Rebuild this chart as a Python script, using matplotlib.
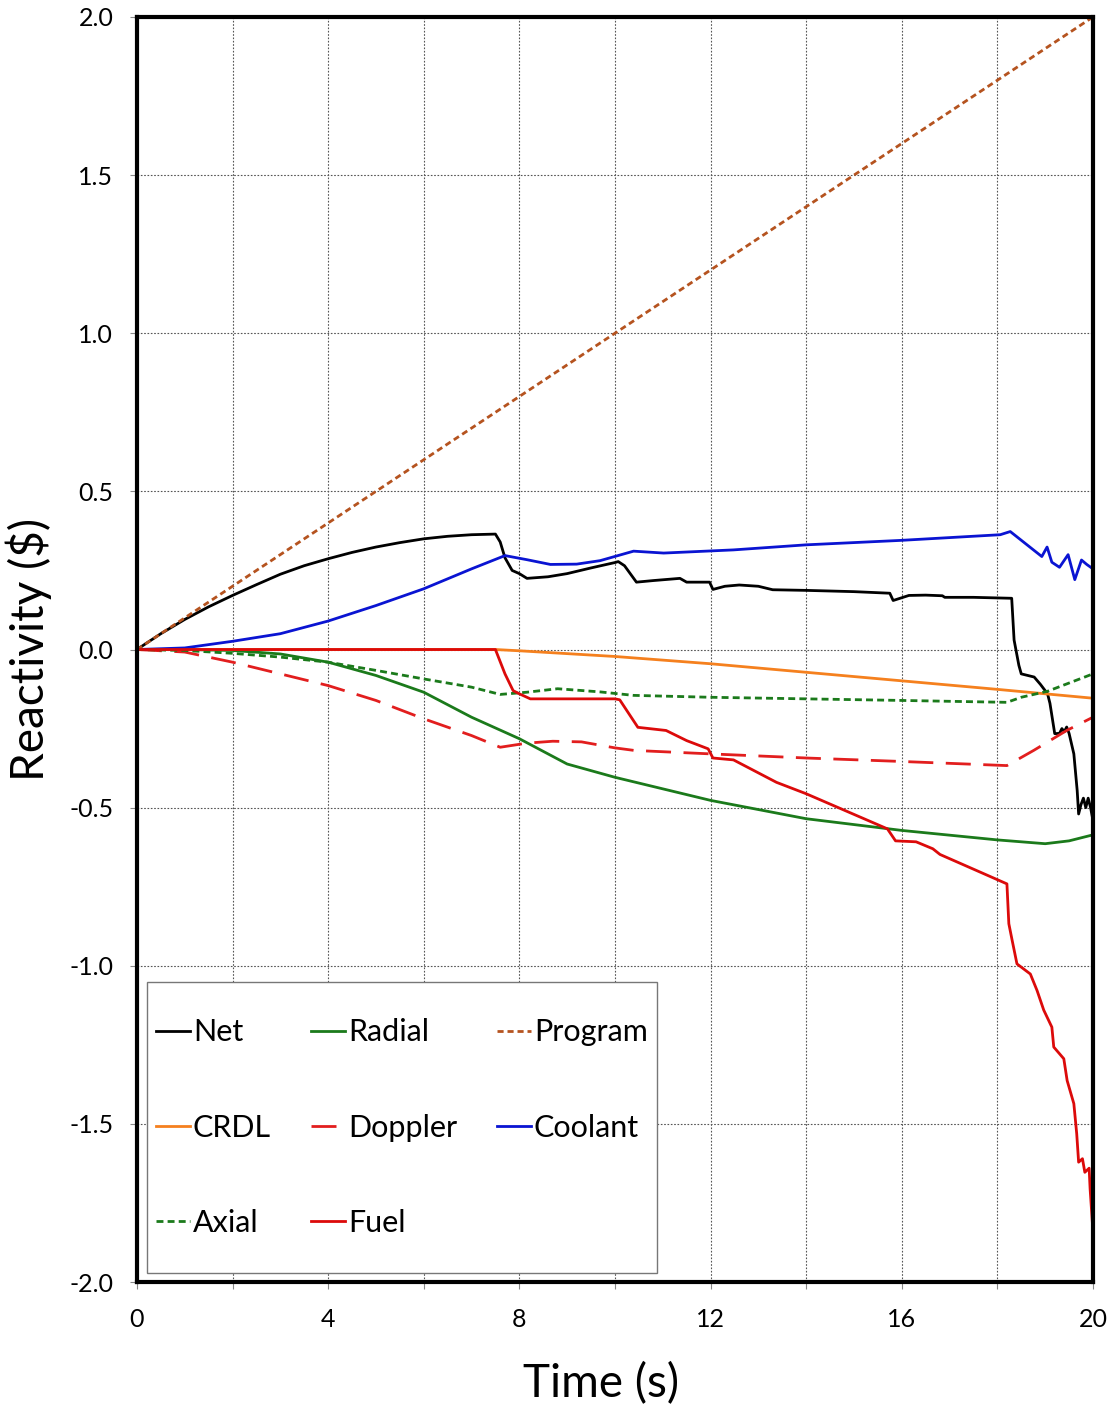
import matplotlib
matplotlib.use("Agg")
import matplotlib.pyplot as plt
import numpy as np
from matplotlib.patches import Rectangle
from matplotlib.ticker import MultipleLocator, FormatStrFormatter

plt.rcParams['font.family'] = ['Lato', 'DejaVu Sans']
plt.rcParams['axes.unicode_minus'] = False

# values
net_t = [0, 0.5, 1, 1.5, 2, 2.5, 3, 3.5, 4, 4.5, 5, 5.5, 6, 6.5, 7, 7.5, 7.6, 7.7, 7.85, 8.0, 8.16,
         8.6, 9.0, 9.5, 10.0, 10.07, 10.2, 10.45, 10.8, 11.36, 11.5, 11.98, 12.05, 12.3, 12.6, 13.0,
         13.3, 14.0, 15.0, 15.75, 15.82, 16.15, 16.5, 16.85, 16.9, 17.5, 18.3, 18.35, 18.45, 18.5,
         18.77, 18.9, 19.05, 19.1, 19.2, 19.3, 19.35, 19.4, 19.45, 19.5, 19.6, 19.67, 19.7, 19.75,
         19.8, 19.85, 19.9, 19.95, 20.0]
net_v = [0, 0.05, 0.095, 0.135, 0.171, 0.205, 0.238, 0.265, 0.287, 0.307, 0.324, 0.338, 0.35, 0.358,
         0.363, 0.365, 0.34, 0.29, 0.25, 0.24, 0.225, 0.23, 0.24, 0.258, 0.275, 0.278, 0.265, 0.213,
         0.218, 0.225, 0.213, 0.213, 0.19, 0.2, 0.204, 0.2, 0.189, 0.187, 0.183, 0.178, 0.155, 0.171,
         0.172, 0.17, 0.165, 0.165, 0.162, 0.03, -0.05, -0.077, -0.087, -0.11, -0.14, -0.17, -0.266,
         -0.265, -0.25, -0.26, -0.245, -0.265, -0.33, -0.446, -0.52, -0.49, -0.47, -0.5, -0.47, -0.5,
         -0.54]

radial_t = [0, 1, 2, 3, 4, 5, 6, 7, 8, 9, 10, 12, 14, 16, 18, 19, 19.5, 20]
radial_v = [0, 0, -0.003, -0.014, -0.04, -0.082, -0.135, -0.214, -0.282, -0.362, -0.404, -0.477,
            -0.535, -0.572, -0.602, -0.614, -0.605, -0.586]

program_t = [0, 20]
program_v = [0, 2.0]

crdl_t = [0, 7.5, 8, 10, 12, 14, 16, 18, 20]
crdl_v = [0, 0, -0.004, -0.022, -0.045, -0.072, -0.099, -0.126, -0.154]

doppler_t = [0, 1, 2, 3, 4, 5, 6, 7, 7.6, 8.16, 8.7, 9.3, 10.0, 10.4, 12, 14, 16, 18.2, 18.76,
             19.45, 20]
doppler_v = [0, -0.008, -0.04, -0.077, -0.114, -0.161, -0.219, -0.272, -0.309, -0.296, -0.29,
             -0.292, -0.311, -0.319, -0.33, -0.343, -0.354, -0.367, -0.319, -0.256, -0.214]

coolant_t = [0, 1, 2, 3, 4, 5, 6, 7, 7.7, 8.16, 8.65, 9.2, 9.69, 10.39, 11.02, 12.48, 14.0, 15.97,
             18.06, 18.27, 18.93, 19.04, 19.14, 19.3, 19.48, 19.62, 19.76, 19.87, 20.0]
coolant_v = [0, 0.005, 0.026, 0.05, 0.09, 0.139, 0.192, 0.255, 0.297, 0.284, 0.269, 0.27, 0.281,
             0.311, 0.305, 0.315, 0.331, 0.345, 0.363, 0.373, 0.294, 0.324, 0.276, 0.26, 0.30,
             0.221, 0.283, 0.269, 0.255]

axial_t = [0, 1, 2, 3, 4, 5, 6, 7, 7.6, 8.16, 8.8, 9.69, 10.39, 12, 14, 16, 18.2, 18.5, 19.05, 20]
axial_v = [0, -0.003, -0.012, -0.024, -0.04, -0.066, -0.093, -0.119, -0.142, -0.135, -0.124,
           -0.134, -0.145, -0.151, -0.156, -0.161, -0.167, -0.151, -0.132, -0.077]

fuel_t = [0, 7.5, 7.7, 7.87, 8.0, 8.23, 10.0, 10.1, 10.48, 11.07, 11.5, 11.95, 12.05, 12.48, 13.38,
          14.0, 15.7, 15.87, 16.3, 16.65, 16.8, 18.2, 18.24, 18.31, 18.41, 18.69, 18.83, 18.97,
          19.14, 19.18, 19.39, 19.46, 19.6, 19.66, 19.7, 19.78, 19.83, 19.92, 19.94, 20.0]
fuel_v = [0, 0, -0.077, -0.13, -0.14, -0.156, -0.156, -0.159, -0.246, -0.256, -0.288, -0.314,
          -0.343, -0.349, -0.42, -0.456, -0.567, -0.605, -0.608, -0.63, -0.648, -0.741, -0.867,
          -0.92, -0.994, -1.026, -1.078, -1.14, -1.194, -1.257, -1.294, -1.363, -1.436, -1.531,
          -1.621, -1.61, -1.653, -1.64, -1.705, -1.84]

fig = plt.figure(figsize=(11.13, 14.16), dpi=100)
ax = fig.add_axes([0.123, 0.0946, 0.859, 0.8934])

ax.plot(net_t, net_v, color='black', lw=2, label='Net')
ax.plot(radial_t, radial_v, color='#1b7a1b', lw=2, label='Radial')
ax.plot(program_t, program_v, color='#b5531f', lw=2, dashes=(2.2, 1.4), label='Program')
ax.plot(crdl_t, crdl_v, color='#f5801e', lw=2, label='CRDL')
ax.plot(doppler_t, doppler_v, color='#e21e1e', lw=2, dashes=(9, 4.5), label='Doppler')
ax.plot(coolant_t, coolant_v, color='#0a14d2', lw=2, label='Coolant')
ax.plot(axial_t, axial_v, color='#1b7a1b', lw=2, dashes=(2.5, 1.5), label='Axial')
ax.plot(fuel_t, fuel_v, color='#dc0a0a', lw=2, label='Fuel')

ax.set_xlim(0, 20)
ax.set_ylim(-2.0, 2.0)
ax.xaxis.set_major_locator(MultipleLocator(4))
ax.xaxis.set_minor_locator(MultipleLocator(2))
ax.yaxis.set_major_locator(MultipleLocator(0.5))
ax.yaxis.set_major_formatter(FormatStrFormatter('%.1f'))
ax.grid(True, which='both', color='#555555', lw=0.8, linestyle=(0, (1.5, 1.5)))
ax.tick_params(which='both', direction='out', length=5, width=0.8, color='#888888',
               labelsize=18, pad=14)
ax.tick_params(axis='y', pad=12)
for s in ax.spines.values():
    s.set_linewidth(3)

ax.set_xlabel('Time (s)', fontsize=33, labelpad=22)
ax.xaxis.label.set_x(0.485)
ax.set_ylabel('Reactivity ($)', fontsize=33, labelpad=12)

# legend box drawn by hand so the padding can differ across and down
box = (0.0105, 0.0071, 0.5335, 0.230)
ax.add_patch(Rectangle(box[:2], box[2], box[3], transform=ax.transAxes, facecolor='white',
                       edgecolor='#777777', lw=1, zorder=4))
h, l = ax.get_legend_handles_labels()
# legend fills column-wise: reorder so rows read Net/Radial/Program, CRDL/Doppler/Coolant, Axial/Fuel
order = [0, 3, 6, 1, 4, 7, 2, 5]
leg = ax.legend([h[i] for i in order], [l[i] for i in order], ncol=3, loc='center',
                bbox_to_anchor=box, mode='expand', fontsize=22, frameon=False,
                handlelength=1.1, handletextpad=0.1, labelspacing=2.2, borderpad=0.3,
                borderaxespad=0)
leg.set_zorder(5)

fig.savefig('out.png', dpi=100)
